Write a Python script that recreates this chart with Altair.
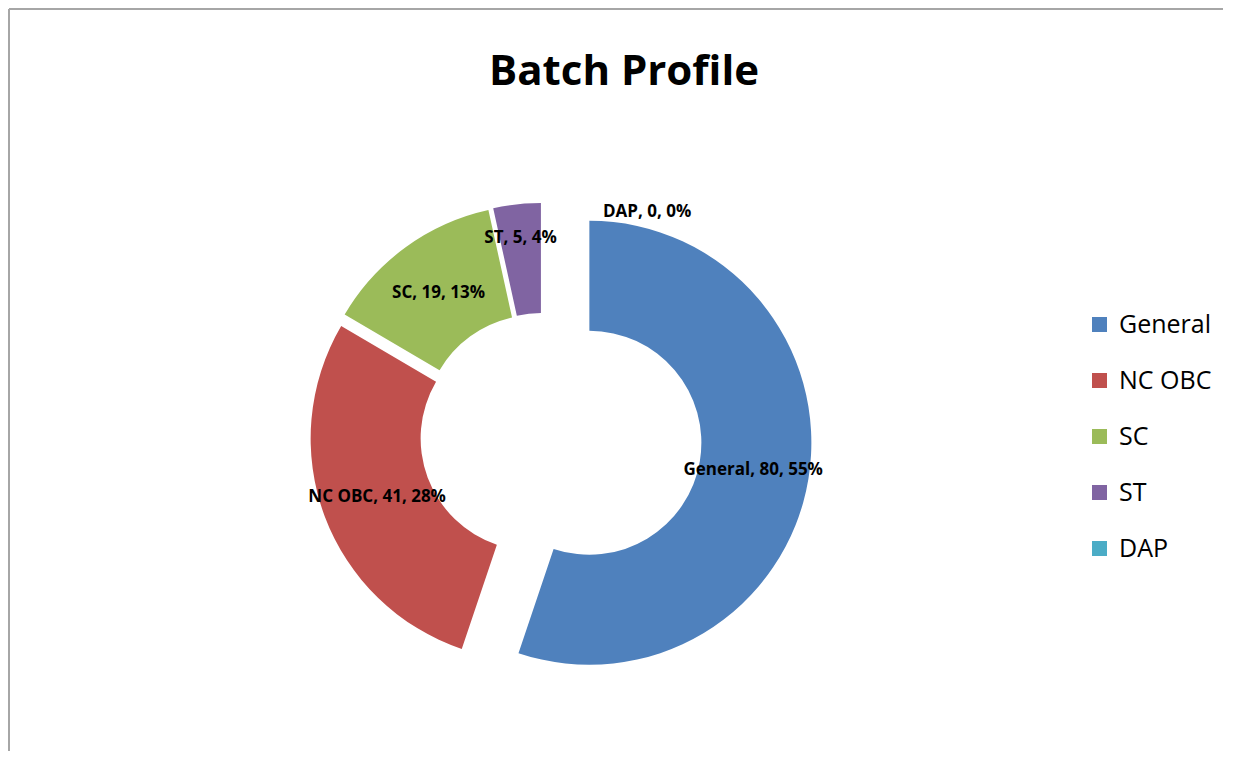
import altair as alt
import pandas as pd

categories = ["General", "NC OBC", "SC", "ST", "DAP"]
values = [80, 41, 19, 5, 0]
labels = ["General, 80, 55%", "NC OBC, 41, 28%", "SC, 19, 13%", "ST,  5, 4%", "DAP, 0, 0%"]
colors = ["#4F81BD", "#C0504D", "#9BBB59", "#8064A2", "#4BACC6"]
title_text = "Batch Profile"

W, H = 1215, 743
CX, CY = 534, 427
R_OUT, R_IN = 222, 112
FONT = "Open Sans"

df = pd.DataFrame({"category": categories, "value": values, "label": labels})

base = alt.Chart(df).transform_joinaggregate(
    total="sum(value)"
).transform_window(
    cum="sum(value)", frame=[None, 0]
).transform_calculate(
    t1="datum.cum / datum.total * 2 * PI",
    t0="(datum.cum - datum.value) / datum.total * 2 * PI",
).transform_calculate(
    mid="(datum.t0 + datum.t1) / 2",
    ex="datum.value == 0 ? 0 : (datum.category == 'General' ? 48 : 10)",
).transform_calculate(
    cx=f"{CX} + datum.ex * sin(datum.mid)",
    cy=f"{CY} - datum.ex * cos(datum.mid)",
    lr="datum.value < 10 ? 188 : 166",
)

arcs = base.mark_arc(radius=R_OUT, radius2=R_IN).encode(
    x=alt.X("cx:Q", scale=None),
    y=alt.Y("cy:Q", scale=None),
    theta=alt.Theta("t0:Q", scale=None),
    theta2=alt.Theta2("t1:Q"),
    color=alt.Color(
        "category:N",
        scale=alt.Scale(domain=categories, range=colors),
        sort=categories,
        legend=alt.Legend(
            title=None, orient="none", legendX=1079, legendY=304,
            symbolType="square", symbolSize=225, symbolStrokeWidth=0,
            labelFontSize=25, labelFont=FONT, labelColor="black",
            rowPadding=30, labelOffset=7,
        ),
    ),
)

text_labels = base.transform_filter("datum.value > 0").mark_text(
    font=FONT, fontSize=17, fontWeight="bold", color="black",
    align="center", baseline="middle",
).encode(
    x=alt.X("cx:Q", scale=None),
    y=alt.Y("cy:Q", scale=None),
    theta=alt.Theta("mid:Q", scale=None),
    radius=alt.Radius("lr:Q", scale=None),
    text="label:N",
)

zero_labels = base.transform_filter("datum.value == 0").mark_text(
    font=FONT, fontSize=17, fontWeight="bold", color="black",
    align="left", baseline="middle", dx=61,
).encode(
    x=alt.X("cx:Q", scale=None),
    y=alt.Y("cy:Q", scale=None),
    theta=alt.Theta("mid:Q", scale=None),
    radius=alt.value(223),
    text="label:N",
)

one = alt.Data(values=[{"t": title_text}])
title = alt.Chart(one).mark_text(
    font=FONT, fontSize=42, fontWeight="bold", color="black",
    align="center", baseline="alphabetic",
).encode(x=alt.value(616), y=alt.value(77), text="t:N")

border_top = alt.Chart(one).mark_rule(color="#a6a6a6", strokeWidth=2).encode(
    x=alt.value(1), x2=alt.value(W), y=alt.value(1)
)
border_left = alt.Chart(one).mark_rule(color="#a6a6a6", strokeWidth=2).encode(
    x=alt.value(1), y=alt.value(1), y2=alt.value(H)
)

chart = alt.layer(border_top, border_left, title, arcs, text_labels, zero_labels).properties(
    width=W, height=H, autosize="none", padding=0, background="white"
).configure_view(stroke=None)

chart.save("out.html", embed_options={"renderer": "svg", "actions": False})
